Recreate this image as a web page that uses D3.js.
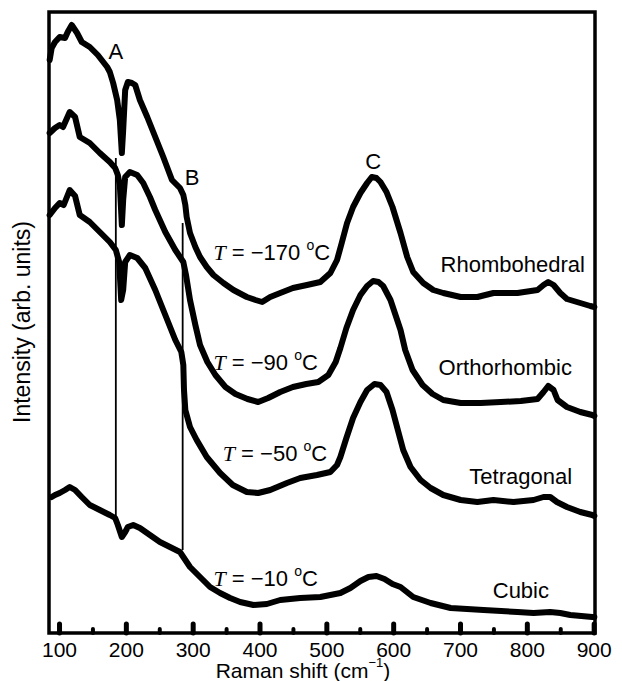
<!DOCTYPE html>
<html>
<head>
<meta charset="utf-8">
<script src="https://cdn.jsdelivr.net/npm/d3@7"></script>
<style>
  body { margin: 0; background: #fff; }
  text { font-family: "Liberation Sans", Arial, sans-serif; fill: #000; }
</style>
</head>
<body>
<svg id="chart"></svg>
<script>
// Raman spectra, [wavenumber (cm-1), intensity (arb. units)]
const rhombohedral = [
  [86,5.73],[89,5.85],[94,5.91],[101,5.96],[109,5.95],[113,6.01],[119,6.08],[127,6.00],[134,5.91],
  [146,5.86],[158,5.78],[172,5.66],[176,5.61],[181,5.50],[187,5.33],[191,5.13],[194,4.80],[196,5.03],
  [199,5.43],[203,5.51],[209,5.50],[214,5.48],[221,5.33],[232,5.16],[244,4.96],[256,4.76],[269,4.53],
  [281,4.45],[286,4.38],[289,4.28],[291,4.16],[296,4.00],[304,3.86],[311,3.76],[321,3.66],[331,3.58],
  [346,3.50],[361,3.43],[381,3.36],[394,3.33],[404,3.31],[416,3.36],[431,3.40],[450,3.45],[471,3.48],
  [491,3.51],[506,3.60],[516,3.73],[523,3.90],[531,4.10],[540,4.26],[551,4.40],[561,4.50],[568,4.56],
  [575,4.55],[581,4.51],[590,4.41],[599,4.26],[605,4.13],[611,4.00],[621,3.76],[630,3.61],[645,3.50],
  [660,3.43],[675,3.40],[701,3.36],[726,3.36],[750,3.40],[786,3.40],[816,3.43],[825,3.48],[832,3.51],
  [840,3.48],[850,3.40],[860,3.34],[880,3.30],[895,3.27],[901,3.26]
];
const orthorhombic = [
  [86,5.00],[94,5.05],[101,5.08],[106,5.06],[116,5.21],[124,5.16],[131,4.96],[146,4.90],[161,4.80],
  [176,4.71],[184,4.65],[188,4.58],[191,4.48],[194,4.08],[196,4.33],[199,4.56],[206,4.61],[217,4.58],
  [226,4.50],[236,4.36],[244,4.23],[259,4.01],[274,3.83],[281,3.76],[286,3.71],[290,3.58],[296,3.33],
  [304,3.08],[311,2.88],[322,2.71],[334,2.58],[349,2.46],[364,2.39],[382,2.34],[398,2.31],[413,2.35],
  [431,2.41],[450,2.46],[470,2.49],[488,2.51],[503,2.58],[514,2.71],[521,2.85],[530,3.05],[540,3.23],
  [551,3.38],[561,3.47],[570,3.52],[578,3.51],[585,3.47],[596,3.33],[605,3.15],[611,3.03],[618,2.83],
  [629,2.63],[644,2.48],[659,2.39],[675,2.33],[701,2.30],[731,2.30],[761,2.31],[791,2.32],[816,2.34],
  [825,2.41],[832,2.47],[840,2.43],[846,2.33],[860,2.26],[880,2.21],[898,2.18],[901,2.17]
];
const tetragonal = [
  [86,4.18],[94,4.25],[101,4.30],[107,4.28],[116,4.43],[124,4.37],[131,4.18],[146,4.11],[161,4.01],
  [176,3.91],[185,3.83],[190,3.71],[193,3.33],[196,3.43],[199,3.71],[206,3.78],[217,3.75],[229,3.65],
  [244,3.43],[259,3.18],[274,2.93],[283,2.81],[286,2.68],[287,2.43],[289,2.23],[296,2.06],[306,1.93],
  [321,1.76],[341,1.60],[360,1.48],[381,1.41],[398,1.40],[416,1.43],[441,1.50],[461,1.55],[486,1.58],
  [506,1.61],[516,1.68],[521,1.76],[530,1.95],[540,2.15],[551,2.31],[561,2.43],[572,2.49],[581,2.48],
  [590,2.41],[599,2.23],[605,2.08],[611,1.93],[615,1.83],[626,1.66],[641,1.53],[656,1.45],[675,1.38],
  [701,1.33],[726,1.31],[750,1.33],[780,1.31],[810,1.33],[825,1.36],[835,1.36],[845,1.31],[860,1.26],
  [880,1.21],[898,1.18],[901,1.17]
];
const cubic = [
  [89,1.36],[94,1.38],[101,1.40],[109,1.43],[116,1.46],[124,1.43],[134,1.36],[146,1.28],[161,1.23],
  [176,1.18],[184,1.15],[188,1.08],[194,0.96],[199,1.01],[203,1.06],[211,1.08],[221,1.05],[236,0.98],
  [251,0.91],[266,0.86],[281,0.81],[286,0.76],[296,0.66],[311,0.56],[326,0.46],[341,0.40],[356,0.35],
  [371,0.31],[391,0.28],[411,0.29],[431,0.33],[461,0.35],[491,0.36],[521,0.40],[536,0.45],[551,0.52],
  [563,0.56],[575,0.57],[587,0.54],[599,0.49],[611,0.46],[630,0.36],[656,0.30],[686,0.25],[735,0.23],
  [786,0.21],[810,0.20],[835,0.21],[850,0.20],[865,0.18],[898,0.16],[901,0.16]
];

// guide lines through modes A and B: [wavenumber, top intensity, bottom intensity]
const modeLines = [[185, 4.75, 1.16], [285, 4.10, 0.83]];

const majorTicks = [100, 200, 300, 400, 500, 600, 700, 800, 900];
const minorTicks = [150, 250, 350, 450, 550, 650, 750, 850];

const phases = ['Rhombohedral', 'Orthorhombic', 'Tetragonal', 'Cubic'];
const temps = ['\u2212170', '\u221290', '\u221250', '\u221210'];

class RamanChart {
  constructor(config) {
    this.config = {
      parent: config.parent,
      width: config.width || 622,
      height: config.height || 681,
      left: 49, right: 595, top: 12, bottom: 633
    };
    this.init();
  }

  init() {
    let self = this;
    self.svg = d3.select(self.config.parent)
      .attr('width', self.config.width)
      .attr('height', self.config.height);

    self.xscale = d3.scaleLinear()
      .domain([85, 902])
      .range([self.config.left, self.config.right]);

    self.yscale = d3.scaleLinear()
      .domain([0, 6.21])
      .range([self.config.bottom, self.config.top]);

    self.line = d3.line()
      .x(d => self.xscale(d[0]))
      .y(d => self.yscale(d[1]));
  }

  render() {
    let self = this;
    const x = self.xscale, y = self.yscale;

    // thin guide lines
    self.svg.selectAll('.mode')
      .data(modeLines)
      .join('line')
      .attr('x1', d => x(d[0])).attr('x2', d => x(d[0]))
      .attr('y1', d => y(d[1])).attr('y2', d => y(d[2]))
      .attr('stroke', '#000')
      .attr('stroke-width', 1.8);

    // spectra
    self.svg.selectAll('.spec')
      .data([rhombohedral, orthorhombic, tetragonal, cubic])
      .join('path')
      .attr('d', d => self.line(d))
      .attr('fill', 'none')
      .attr('stroke', '#000')
      .attr('stroke-width', 6)
      .attr('stroke-linejoin', 'round')
      .attr('stroke-linecap', 'round');

    // frame
    self.svg.append('rect')
      .attr('x', self.config.left)
      .attr('y', self.config.top)
      .attr('width', self.config.right - self.config.left)
      .attr('height', self.config.bottom - self.config.top)
      .attr('fill', 'none')
      .attr('stroke', '#000')
      .attr('stroke-width', 3.5);

    // axis
    const xaxis = d3.axisBottom(x)
      .tickValues(majorTicks)
      .tickSizeInner(-9)
      .tickSizeOuter(0)
      .tickPadding(9)
      .tickFormat(d3.format('d'));
    const major = self.svg.append('g')
      .attr('transform', `translate(0, ${self.config.bottom})`)
      .call(xaxis);
    major.select('.domain').remove();
    major.selectAll('line').attr('stroke-width', 5).attr('stroke-linecap', 'round');
    major.selectAll('text')
      .style('font-family', '"Liberation Sans", Arial, sans-serif')
      .style('font-size', '21px');

    const minor = self.svg.append('g')
      .attr('transform', `translate(0, ${self.config.bottom})`)
      .call(d3.axisBottom(x).tickValues(minorTicks).tickSizeInner(-4).tickSizeOuter(0).tickFormat(''));
    minor.select('.domain').remove();
    minor.selectAll('line').attr('stroke-width', 4).attr('stroke-linecap', 'round');

    // axis titles
    const xt = self.svg.append('text')
      .attr('x', 303).attr('y', 678)
      .attr('text-anchor', 'middle')
      .style('font-size', '21px');
    xt.append('tspan').text('Raman shift (cm');
    xt.append('tspan').attr('dy', -11).style('font-size', '13px').text('\u22121');
    xt.append('tspan').attr('dy', 11).text(')');

    self.svg.append('text')
      .attr('transform', 'translate(30, 322) rotate(-90)')
      .attr('text-anchor', 'middle')
      .style('font-size', '23px')
      .text('Intensity (arb. units)');

    // mode letters
    const letters = [['A', 185, 5.74], ['B', 299, 4.48], ['C', 570, 4.64]];
    self.svg.selectAll('.letter')
      .data(letters)
      .join('text')
      .attr('x', d => x(d[1])).attr('y', d => y(d[2]))
      .attr('text-anchor', 'middle')
      .style('font-size', '22px')
      .text(d => d[0]);

    // phase names
    const phasePos = [[671, 3.61], [668, 2.58], [714, 1.49], [749, 0.35]];
    self.svg.selectAll('.phase')
      .data(phases)
      .join('text')
      .attr('x', (d, i) => x(phasePos[i][0]))
      .attr('y', (d, i) => y(phasePos[i][1]))
      .style('font-size', '22px')
      .text(d => d);

    // temperature labels
    const tempPos = [[331, 3.73], [331, 2.63], [345, 1.72], [331, 0.47]];
    temps.forEach((t, i) => {
      const g = self.svg.append('text')
        .attr('x', x(tempPos[i][0]))
        .attr('y', y(tempPos[i][1]))
        .style('font-size', '22px');
      g.append('tspan')
        .style('font-family', '"Liberation Serif", "Times New Roman", serif')
        .style('font-style', 'italic')
        .text('T');
      g.append('tspan').text(` = ${t} `);
      g.append('tspan').attr('dy', -10).style('font-size', '14px').text('o');
      g.append('tspan').attr('dy', 10).text('C');
    });
  }
}

const chart = new RamanChart({ parent: '#chart', width: 622, height: 681 });
chart.render();
</script>
</body>
</html>
